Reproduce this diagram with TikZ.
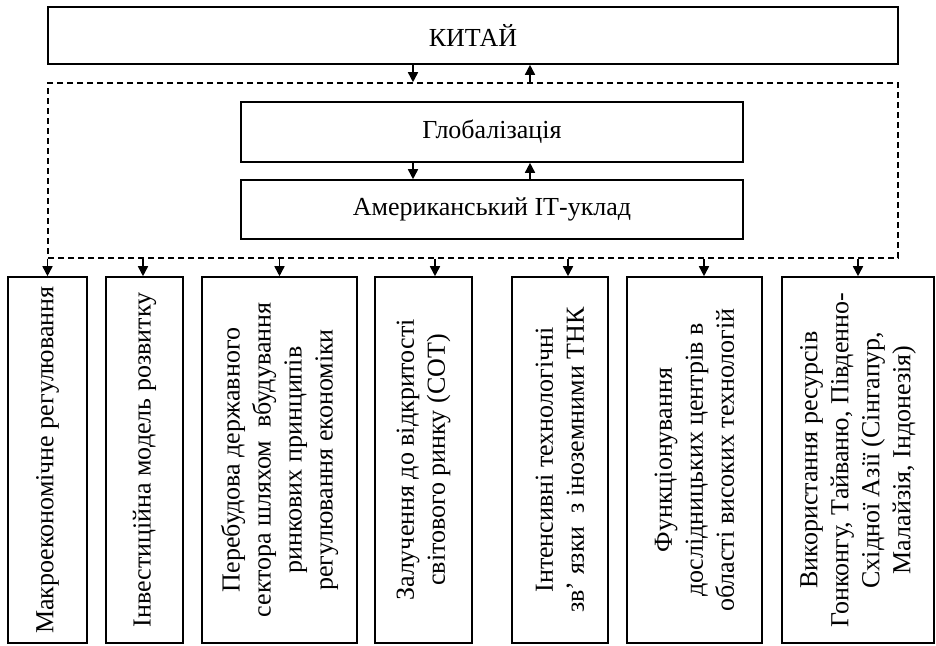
\documentclass[tikz,border=0pt]{standalone}
\usepackage{fontspec}
\setmainfont{Liberation Serif}
\usetikzlibrary{arrows.meta}
\usetikzlibrary{calc}

\begin{document}
\begin{tikzpicture}[x=0.5pt,y=-0.5pt,
  box/.style={shape=rectangle,draw,line width=0.8pt,inner sep=2pt,font=\fontsize{13}{15.5}\selectfont},
  vbox/.style={box,rotate=90,align=center,minimum width=183pt},
  dashbox/.style={shape=rectangle,draw,line width=0.8pt,dash pattern=on 3pt off 2pt},
  arr/.style={line width=0.8pt,-{Triangle[length=5pt,width=5pt]}}]
\useasboundingbox (0,0) rectangle (936,645);
\draw (473,35.5) node (kitai) [box,minimum width=425pt,minimum height=28.5pt] {КИТАЙ};
\draw (473,170.5) node (dash) [dashbox,minimum width=425pt,minimum height=87.5pt] {};
\draw (492,132) node (glob) [box,minimum width=251pt,minimum height=30pt] {Глобалізація};
\draw (492,209.5) node (amer) [box,minimum width=251pt,minimum height=29.5pt] {Американський ІТ-уклад};
\draw[arr] ([xshift=-30pt]kitai.south) -- ([xshift=-30pt]dash.north);
\draw[arr] ([xshift=28.5pt]dash.north) -- ([xshift=28.5pt]kitai.south);
\draw[arr] ([xshift=-39.5pt]glob.south) -- ([xshift=-39.5pt]amer.north);
\draw[arr] ([xshift=19pt]amer.north) -- ([xshift=19pt]glob.south);
\draw (47.5,460) node (b1) [vbox,minimum height=39.5pt] {Макроекономічне регулювання};
\draw (144.5,460) node (b2) [vbox,minimum height=38.5pt] {Інвестиційна модель розвитку};
\draw (279.5,460) node (b3) [vbox,minimum height=77.5pt] {Перебудова державного\\ сектора шляхом\ \ вбудування\\ ринкових принципів\\ регулювання економіки};
\draw (423.5,460) node (b4) [vbox,minimum height=48.5pt] {Залучення до відкритості\\ світового ринку (СОТ)};
\draw (560,460) node (b5) [vbox,minimum height=48pt] {Інтенсивні технологічні\\ зв’ язки\ \ з іноземними ТНК};
\draw (694.5,460) node (b6) [vbox,minimum height=67.5pt] {Функціонування\\ дослідницьких центрів в\\ області високих технологій};
\draw (858,460) node (b7) [vbox,minimum height=76pt] {Використання ресурсів\\ Гонконгу, Тайваню, Південно-\\ Східної Азії (Сінгапур,\\ Малайзія, Індонезія)};
\draw[arr] (b1.east |- dash.south) -- (b1.east);
\draw[arr] ([xshift=-0.75pt]b2.east |- dash.south) -- ([xshift=-0.75pt]b2.east);
\draw[arr] (b3.east |- dash.south) -- (b3.east);
\draw[arr] ([xshift=5.75pt]b4.east |- dash.south) -- ([xshift=5.75pt]b4.east);
\draw[arr] ([xshift=4pt]b5.east |- dash.south) -- ([xshift=4pt]b5.east);
\draw[arr] ([xshift=4.75pt]b6.east |- dash.south) -- ([xshift=4.75pt]b6.east);
\draw[arr] (b7.east |- dash.south) -- (b7.east);
\end{tikzpicture}
\end{document}
